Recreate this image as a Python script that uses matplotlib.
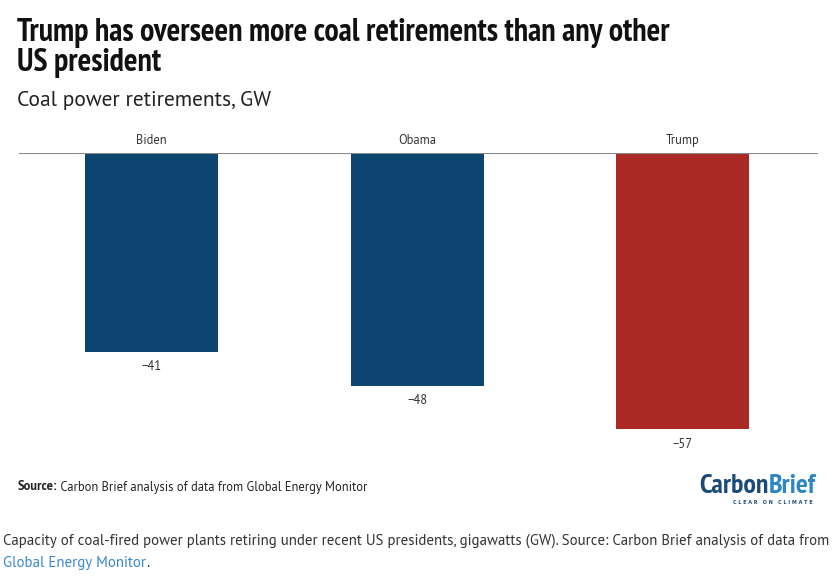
import matplotlib
matplotlib.use("Agg")
import matplotlib.pyplot as plt

# Data
PRESIDENTS = ["Biden", "Obama", "Trump"]
RETIREMENTS_GW = [-41, -48, -57]
BAR_COLORS = ["#0c4570", "#0c4570", "#ac2a26"]

TITLE = "Trump has overseen more coal retirements than any other\nUS president"
SUBTITLE = "Coal power retirements, GW"
SOURCE = "Carbon Brief analysis of data from Global Energy Monitor"
CAPTION = ("Capacity of coal-fired power plants retiring under recent US presidents, "
           "gigawatts (GW). Source: Carbon Brief analysis of data from")
CAPTION_LINK = "Global Energy Monitor"

NARROW = ["PT Sans Narrow", "Roboto Condensed", "Sofia Sans Condensed", "DejaVu Sans"]
SANS = ["PT Sans", "Noto Sans", "DejaVu Sans"]

W, H = 836, 580
fig = plt.figure(figsize=(W / 100, H / 100), dpi=100)


def fy(py):
    return 1 - py / H


def fx(px):
    return px / W


# Axes placed so the baseline sits at ~153 px
top_px, gw_px = 153, 4.85
ymin = -62
ax = fig.add_axes([fx(19), fy(top_px + abs(ymin) * gw_px), 799 / W, abs(ymin) * gw_px / H])

x = range(len(PRESIDENTS))
ax.bar(x, RETIREMENTS_GW, width=0.5, color=BAR_COLORS, zorder=2)
ax.axhline(0, color="#888888", lw=1.5, zorder=3)
ax.set_xlim(-0.5, 2.51)
ax.set_ylim(ymin, 0)
ax.axis("off")

for xi, name, val in zip(x, PRESIDENTS, RETIREMENTS_GW):
    ax.annotate(name, (xi, 0), xytext=(0, 4), textcoords="offset points",
                ha="center", va="bottom", fontsize=9, color="#333333",
                family=SANS, annotation_clip=False)
    ax.annotate(f"\u2212{abs(val)}", (xi, val), xytext=(0, -6), textcoords="offset points",
                ha="center", va="top", fontsize=9, color="#333333",
                family=SANS, annotation_clip=False)

# Titles
fig.text(fx(17), fy(18), TITLE, ha="left", va="top", fontsize=23, fontweight="bold",
         family=NARROW, color="#111111", linespacing=1.02)
fig.text(fx(17), fy(91), SUBTITLE, ha="left", va="top", fontsize=15.5,
         family=SANS, color="#222222")

# Source line
src = fig.text(fx(18), fy(487), "Source:", ha="left", va="center", fontsize=9,
               fontweight="bold", family=SANS, color="#222222")
ax.annotate(" " + SOURCE, xy=(1, 0.5), xycoords=src, ha="left", va="center",
            fontsize=9, family=SANS, color="#222222", annotation_clip=False)

# Logo
logo = fig.text(fx(699), fy(486), "Carbon", ha="left", va="center", fontsize=20,
                fontweight="bold", family=NARROW, color="#1b4a78")
ax.annotate("Brief", xy=(1, 0.5), xycoords=logo, ha="left", va="center",
            fontsize=20, fontweight="bold", family=NARROW, color="#2d86c4",
            annotation_clip=False)
fig.text(fx(813), fy(503), "C L E A R   O N   C L I M A T E", ha="right", va="center",
         fontsize=3.5, fontweight="bold", color="#1b4a78")

# Caption below the graphic
fig.text(fx(3), fy(541), CAPTION, ha="left", va="center", fontsize=10.7,
         family=SANS, color="#333333")
link = fig.text(fx(3), fy(563), CAPTION_LINK, ha="left", va="center", fontsize=10.7,
                family=SANS, color="#3a87c9")
ax.annotate(".", xy=(1, 0.5), xycoords=link, ha="left", va="center",
            fontsize=10.7, family=SANS, color="#333333", annotation_clip=False)

fig.savefig("out.png", dpi=100)
